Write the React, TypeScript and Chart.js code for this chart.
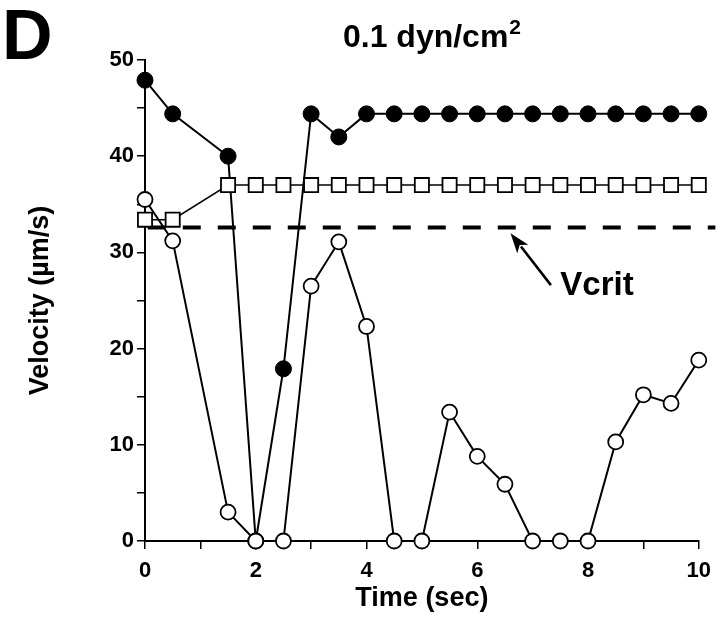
import React, { useEffect, useRef } from 'react';
import { Chart, registerables } from 'chart.js';

Chart.register(...registerables);

const FONT = '"Liberation Sans", Arial, Helvetica, sans-serif';

// ---- data ----
const openTimes = [0, 0.5, 1.5, 2, 2.5, 3, 3.5, 4, 4.5, 5, 5.5, 6, 6.5, 7, 7.5, 8, 8.5, 9, 9.5, 10];
const openValues = [35.5, 31.2, 3.0, 0, 0, 26.5, 31.1, 22.3, 0, 0, 13.4, 8.8, 5.9, 0, 0, 0, 10.3, 15.2, 14.3, 18.8];

const filledTimes = [0, 0.5, 1.5, 2, 2.5, 3, 3.5, 4, 4.5, 5, 5.5, 6, 6.5, 7, 7.5, 8, 8.5, 9, 9.5, 10];
const filledValues = [47.9, 44.4, 40.0, 0, 17.9, 44.4, 42.0, 44.4, 44.4, 44.4, 44.4, 44.4, 44.4, 44.4, 44.4, 44.4, 44.4, 44.4, 44.4, 44.4];

const squareTimes = [0, 0.5, 1.5, 2, 2.5, 3, 3.5, 4, 4.5, 5, 5.5, 6, 6.5, 7, 7.5, 8, 8.5, 9, 9.5, 10];
const squareValues = [33.4, 33.4, 37.0, 37.0, 37.0, 37.0, 37.0, 37.0, 37.0, 37.0, 37.0, 37.0, 37.0, 37.0, 37.0, 37.0, 37.0, 37.0, 37.0, 37.0];

const vcritValue = 32.6;
const vcritTimes = [0.05, 10.3];

const xTickLabels = [0, 2, 4, 6, 8, 10];
const yTickLabels = [0, 10, 20, 30, 40, 50];

const panelLetter = 'D';
const titleMain = '0.1 dyn/cm';
const titleSup = '2';
const xTitle = 'Time (sec)';
const yTitle = 'Velocity (\u00b5m/s)';
const vcritLabel = 'Vcrit';
// annotation anchors in data units
const arrowTip = [6.6, 32.0];
const arrowTail = [7.33, 26.6];
const vcritLabelAt = [7.5, 25.6];

const pts = (xs: number[], ys: number[]) => xs.map((x, i) => ({ x, y: ys[i] }));

const annotate = {
  id: 'annotate',
  afterDatasetsDraw(chart: any) {
    const { ctx, scales } = chart;
    const xs = scales.x;
    const ys = scales.y;
    ctx.save();
    // arrow
    const tx = xs.getPixelForValue(arrowTip[0]);
    const ty = ys.getPixelForValue(arrowTip[1]);
    const sx = xs.getPixelForValue(arrowTail[0]);
    const sy = ys.getPixelForValue(arrowTail[1]);
    const ang = Math.atan2(ty - sy, tx - sx);
    const headLen = 20;
    const headW = 7;
    const bx = tx - headLen * Math.cos(ang);
    const by = ty - headLen * Math.sin(ang);
    ctx.strokeStyle = '#000';
    ctx.fillStyle = '#000';
    ctx.lineWidth = 2.6;
    ctx.beginPath();
    ctx.moveTo(sx, sy);
    ctx.lineTo(bx + 3 * Math.cos(ang), by + 3 * Math.sin(ang));
    ctx.stroke();
    ctx.beginPath();
    ctx.moveTo(tx, ty);
    ctx.lineTo(bx + headW * Math.sin(ang), by - headW * Math.cos(ang));
    ctx.lineTo(bx + 5 * Math.cos(ang), by + 5 * Math.sin(ang));
    ctx.lineTo(bx - headW * Math.sin(ang), by + headW * Math.cos(ang));
    ctx.closePath();
    ctx.fill();
    // Vcrit label
    ctx.font = `bold 33px ${FONT}`;
    ctx.textAlign = 'left';
    ctx.textBaseline = 'alphabetic';
    ctx.fillText(vcritLabel, xs.getPixelForValue(vcritLabelAt[0]), ys.getPixelForValue(vcritLabelAt[1]));
    // panel letter
    ctx.font = `bold 70px ${FONT}`;
    ctx.fillText(panelLetter, 2, 59);
    // title with superscript
    const mainFont = `bold 32px ${FONT}`;
    const supFont = `bold 21px ${FONT}`;
    ctx.font = mainFont;
    const wMain = ctx.measureText(titleMain).width;
    ctx.font = supFont;
    const wSup = ctx.measureText(titleSup).width;
    const cx = 432;
    const left = cx - (wMain + wSup + 1) / 2;
    ctx.font = mainFont;
    ctx.fillText(titleMain, left, 47);
    ctx.font = supFont;
    ctx.fillText(titleSup, left + wMain + 1, 34);
    ctx.restore();
  },
};

export default function App() {
  const ref = useRef<HTMLCanvasElement | null>(null);
  useEffect(() => {
    if (!ref.current) return;
    const chart = new Chart(ref.current, {
      type: 'line',
      data: {
        datasets: [
          {
            label: 'open',
            data: pts(openTimes, openValues),
            borderColor: '#000',
            borderWidth: 2,
            pointStyle: 'circle',
            pointRadius: 7.5,
            pointBorderWidth: 1.8,
            pointBackgroundColor: '#fff',
            pointBorderColor: '#000',
            fill: false,
            tension: 0,
            clip: false,
            order: 0,
          },
          {
            label: 'square',
            data: pts(squareTimes, squareValues),
            borderColor: '#000',
            borderWidth: 1.5,
            pointStyle: 'rect',
            pointRadius: 10,
            pointBorderWidth: 1.8,
            pointBackgroundColor: '#fff',
            pointBorderColor: '#000',
            fill: false,
            tension: 0,
            clip: false,
            order: 1,
          },
          {
            label: 'filled',
            data: pts(filledTimes, filledValues),
            borderColor: '#000',
            borderWidth: 2,
            pointStyle: 'circle',
            pointRadius: 8,
            pointBorderWidth: 1,
            pointBackgroundColor: '#000',
            pointBorderColor: '#000',
            fill: false,
            tension: 0,
            clip: false,
            order: 2,
          },
          {
            label: 'vcrit',
            data: vcritTimes.map((x) => ({ x, y: vcritValue })),
            borderColor: '#000',
            borderWidth: 4,
            borderDash: [18, 17],
            pointRadius: 0,
            fill: false,
            clip: false,
            order: 3,
          },
        ] as any,
      },
      options: {
        animation: false,
        responsive: false,
        maintainAspectRatio: false,
        layout: { padding: { left: 0, right: 16, top: 60, bottom: 0 } },
        plugins: { legend: { display: false }, tooltip: { enabled: false }, title: { display: false } },
        scales: {
          x: {
            type: 'linear',
            min: 0,
            max: 10,
            afterFit: (s: any) => { s.height = 77; },
            ticks: {
              stepSize: 1,
              autoSkip: false,
              maxRotation: 0,
              color: '#000',
              font: { family: FONT, size: 22, weight: 'bold' },
              padding: 9,
              callback: (v: any) => (xTickLabels.includes(Number(v)) ? String(v) : ''),
            },
            grid: { drawOnChartArea: false, drawTicks: true, tickLength: 8, color: '#000', lineWidth: 1.5 },
            border: { display: true, color: '#000', width: 2 },
            title: {
              display: true,
              text: xTitle,
              color: '#000',
              font: { family: FONT, size: 27, weight: 'bold' },
              padding: { top: 0, bottom: 3 },
            },
          },
          y: {
            type: 'linear',
            min: 0,
            max: 50,
            afterFit: (s: any) => { s.width = 145; },
            ticks: {
              stepSize: 5,
              autoSkip: false,
              color: '#000',
              font: { family: FONT, size: 22, weight: 'bold' },
              padding: 3,
              callback: (v: any) => (yTickLabels.includes(Number(v)) ? String(v) : ''),
            },
            grid: { drawOnChartArea: false, drawTicks: true, tickLength: 8, color: '#000', lineWidth: 1.5 },
            border: { display: true, color: '#000', width: 2 },
            title: {
              display: true,
              text: yTitle,
              color: '#000',
              font: { family: FONT, size: 27, weight: 'bold' },
              padding: { top: 24, bottom: 0 },
            },
          },
        },
      } as any,
      plugins: [annotate],
    });
    return () => chart.destroy();
  }, []);
  return (
    <div style={{ position: 'fixed', left: 0, top: 0, width: 720, height: 618, background: '#fff' }}>
      <canvas ref={ref} width={720} height={618} style={{ width: 720, height: 618, display: 'block' }} />
    </div>
  );
}
